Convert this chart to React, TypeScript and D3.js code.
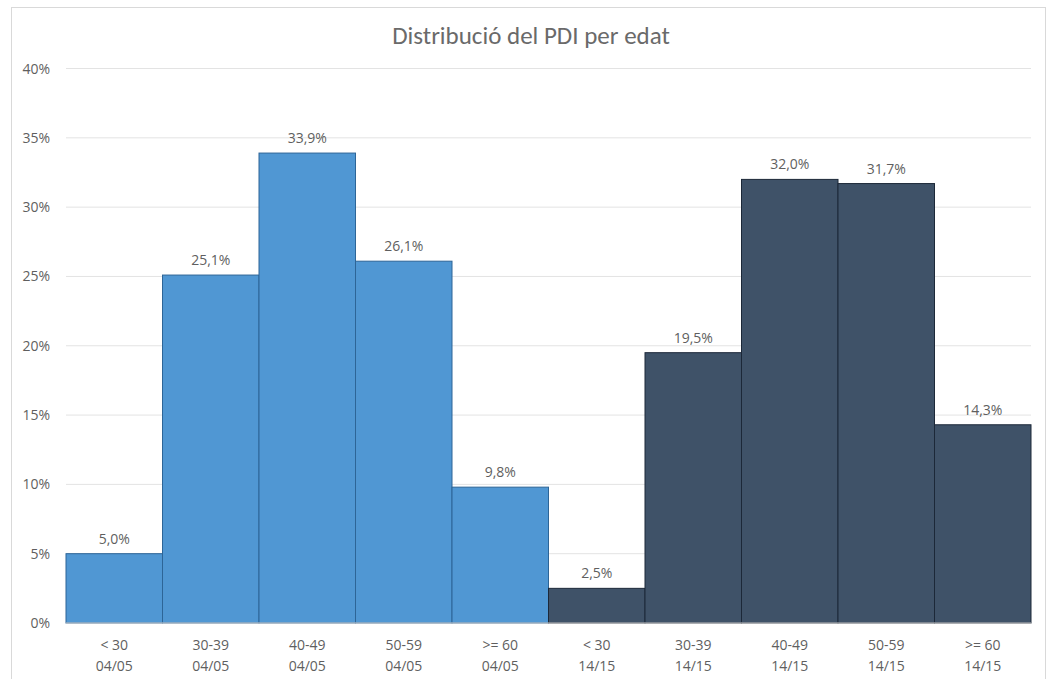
import React from "react";
import * as d3 from "d3";

const categories = ["< 30", "30-39", "40-49", "50-59", ">= 60", "< 30", "30-39", "40-49", "50-59", ">= 60"];
const periods = ["04/05", "04/05", "04/05", "04/05", "04/05", "14/15", "14/15", "14/15", "14/15", "14/15"];
const values = [5.0, 25.1, 33.9, 26.1, 9.8, 2.5, 19.5, 32.0, 31.7, 14.3];
const yTicks = [0, 5, 10, 15, 20, 25, 30, 35, 40];

const W = 1048, H = 679;
const left = 66, right = 1031, top = 68.5, bottom = 623;
const titleFont = "Carlito, Calibri, Lato, sans-serif";
const font = "'Open Sans', sans-serif";

export default function App() {
  const x = d3.scaleBand<number>().domain(d3.range(values.length)).range([left, right]).padding(0);
  const y = d3.scaleLinear().domain([0, 40]).range([bottom, top]);
  const fmt = (v: number) => v.toFixed(1).replace(".", ",") + "%";
  return (
    <svg width={W} height={H} style={{ position: "absolute", left: 0, top: 0, background: "#fff" }}>
      <rect x={11.5} y={7.5} width={1034} height={690} fill="#fff" stroke="#d9d9d9" />
      <text x={531} y={44} textAnchor="middle" fontFamily={titleFont} fontSize={25} fill="#6a6a6a">
        Distribució del PDI per edat
      </text>
      {yTicks.map((t) => (
        <g key={t}>
          <line x1={left} x2={right} y1={y(t)} y2={y(t)} stroke="#e3e3e3" strokeWidth={1} />
          <text x={50} y={y(t) + 5} textAnchor="end" fontFamily={font} fontSize={14} fill="#5f5f5f">
            {t}%
          </text>
        </g>
      ))}
      {values.map((v, i) => {
        const dark = i >= 5;
        return (
          <g key={i}>
            <rect
              x={x(i)!}
              y={y(v)}
              width={x.bandwidth()}
              height={bottom - y(v)}
              fill={dark ? "#3f5268" : "#5097d3"}
              stroke={dark ? "#1c2838" : "#2d6597"}
              strokeWidth={1}
            />
            <text x={x(i)! + x.bandwidth() / 2} y={y(v) - 10} textAnchor="middle" fontFamily={font} fontSize={14} fill="#5f5f5f">
              {fmt(v)}
            </text>
            <text x={x(i)! + x.bandwidth() / 2} y={650} textAnchor="middle" fontFamily={font} fontSize={14} fill="#5f5f5f">
              {categories[i]}
            </text>
            <text x={x(i)! + x.bandwidth() / 2} y={671} textAnchor="middle" fontFamily={font} fontSize={14} fill="#5f5f5f">
              {periods[i]}
            </text>
          </g>
        );
      })}
      <line x1={left} x2={right} y1={bottom} y2={bottom} stroke="#d0d0d0" strokeWidth={1} />
    </svg>
  );
}
